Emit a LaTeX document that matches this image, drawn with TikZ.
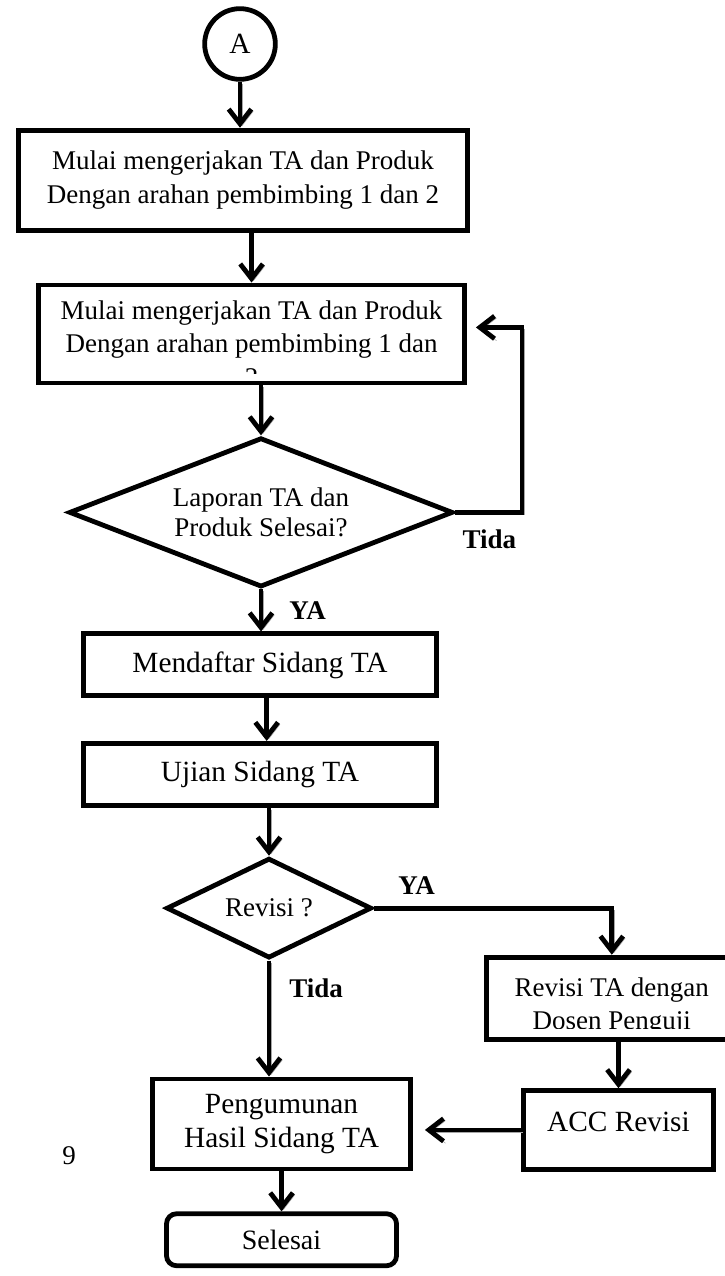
\documentclass[tikz,border=0pt]{standalone}
\usepackage{fontspec}
\setmainfont{Liberation Serif}
\usetikzlibrary{positioning}
\usetikzlibrary{shapes.geometric}
\usetikzlibrary{arrows.meta}

\begin{document}
\begin{tikzpicture}
	[procbox/.style={rectangle,draw,line width=3.6pt,inner sep=0pt,align=center,font=\fontsize{20.25pt}{25pt}\selectfont},
	bigtext/.style={font=\fontsize{22pt}{25pt}\selectfont},
	decbox/.style={diamond,draw,line width=3.6pt,inner sep=0pt,align=center,font=\fontsize{20.25pt}{22.5pt}\selectfont},
	endbox/.style={rectangle,rounded corners=7.5pt,draw,line width=3.6pt,inner sep=0pt,font=\fontsize{21pt}{25pt}\selectfont},
	connbox/.style={circle,draw,line width=3.6pt,inner sep=0pt,minimum size=53pt,font=\fontsize{22pt}{25pt}\selectfont},
	textonly/.style={inner sep=0pt,align=center,font=\fontsize{20.25pt}{25pt}\selectfont},
	answer/.style={inner sep=0pt,font=\fontsize{20.25pt}{25pt}\selectfont\bfseries},
	arrowline/.style={line width=3.6pt,-{Straight Barb[length=11pt,width=17pt]},
		preaction={draw=black!35,transform canvas={shift={(1.5pt,-1.5pt)}}}}
	]
	
	%Set params
	\def\colsep{37.5pt}
	\def\boxwidth{265pt}
	
	\useasboundingbox (0,0) rectangle (543pt,-957pt);
	
	%Main column
	\node(A)[connbox] at (180pt,-33pt) {A};
	\node(Start)[procbox, minimum width=337pt, minimum height=75pt, below = 34.5pt of A, xshift=2.25pt]{Mulai mengerjakan TA dan Produk\\Dengan arahan pembimbing 1 dan 2};
	\node(Work)[procbox, minimum width=319.5pt, minimum height=73.5pt, below = \colsep of Start, xshift=6.4pt]{};
	\node(Done)[decbox, aspect=2.6, minimum width=288pt, minimum height=112pt, below = \colsep of Work, xshift=7.1pt]{Laporan TA dan\\Produk Selesai?};
	\node(Register)[procbox, bigtext, minimum width=\boxwidth, minimum height=46.5pt, below = 31.5pt of Done, xshift=-0.75pt]{Mendaftar Sidang TA};
	\node(Exam)[procbox, bigtext, minimum width=\boxwidth, minimum height=46.5pt, below = 32pt of Register]{Ujian Sidang TA};
	\node(Revise)[decbox, aspect=2, minimum width=154pt, minimum height=75pt, below = 36pt of Exam, xshift=6.75pt]{Revisi ?};
	\node(Result)[procbox, bigtext, minimum width=193.5pt, minimum height=67.5pt, below = 87pt of Revise, xshift=9.4pt]{Pengumunan\\Hasil Sidang TA};
	\node(End)[endbox, minimum width=172.5pt, minimum height=39pt, below = 30pt of Result]{Selesai};
	
	%Revision branch
	\node(ReviseWork)[procbox, minimum width=188pt, minimum height=61.5pt, right = 82.5pt of Revise, yshift=-67.5pt]{};
	\node(Accept)[procbox, bigtext, minimum width=143pt, minimum height=59pt, text depth=12pt, below = 35pt of ReviseWork, xshift=5pt]{ACC Revisi};
	
	%Clipped texts
	\begin{scope}
	\clip (Work.north west) rectangle ([yshift=9pt]Work.south east);
	\node(WorkText)[textonly, anchor=north] at ([yshift=-13.5pt]Work.north) {Mulai mengerjakan TA dan Produk\\Dengan arahan pembimbing 1 dan\\2};
	\end{scope}
	\begin{scope}
	\clip (ReviseWork.north west) rectangle ([yshift=9.75pt]ReviseWork.south east);
	\node(ReviseText)[textonly, anchor=north] at ([yshift=-17pt]ReviseWork.north) {Revisi TA dengan\\Dosen Penguji};
	\end{scope}
	
	%Labels
	\node(TidaOne)[answer, below right = 12.75pt and 5.25pt of Done.east]{Tida};
	\node(YaOne)[answer, below right = 9pt and 21pt of Done.south]{YA};
	\node(YaTwo)[answer, above right = 10pt and 18pt of Revise.east]{YA};
	\node(TidaTwo)[answer, below right = 13.5pt and 15pt of Revise.south]{Tida};
	\node(PageNum)[textonly, left = 55.5pt of Result, yshift=-23.6pt]{9};
	
	%Connectors
	\coordinate(Loop) at ([xshift=50pt]Done.east);
	\draw[arrowline] (A.south) -- (A.south |- Start.north);
	\draw[arrowline] (Work.north |- Start.south) -- (Work.north);
	\draw[arrowline] (Done.north |- Work.south) -- (Done.north);
	\draw[arrowline, shorten >=6.75pt] (Done.east) -- (Loop) |- ([yshift=4.9pt]Work.east);
	\draw[arrowline] (Done.south) -- (Done.south |- Register.north);
	\draw[arrowline] ([xshift=5pt]Register.south) -- ([xshift=5pt]Exam.north);
	\draw[arrowline] (Revise.north |- Exam.south) -- (Revise.north);
	\draw[arrowline] (Revise.east) -| (ReviseWork.north);
	\draw[arrowline] (Revise.south) -- (Revise.south |- Result.north);
	\draw[arrowline] (Accept.north |- ReviseWork.south) -- (Accept.north);
	\draw[arrowline, shorten >=9pt] (Accept.west) -- (Accept.west -| Result.east);
	\draw[arrowline] (Result.south) -- (End.north);
	
\end{tikzpicture}
\end{document}
